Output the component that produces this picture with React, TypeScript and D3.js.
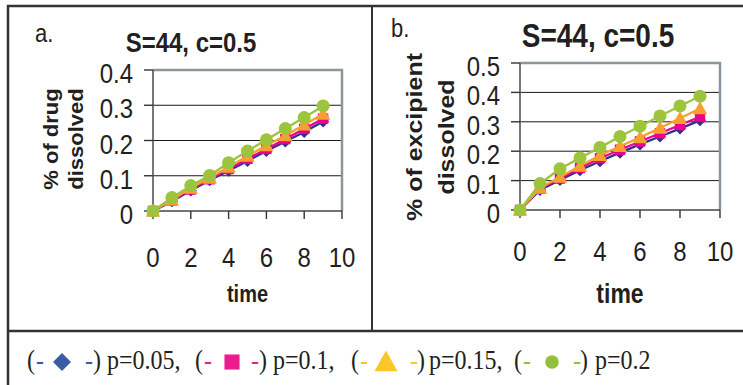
import React from "react";
import * as d3 from "d3";

const times = [0, 1, 2, 3, 4, 5, 6, 7, 8, 9];
const seriesNames = ["p=0.05", "p=0.1", "p=0.15", "p=0.2"];
const seriesShapes = ["diamond", "square", "triangle", "circle"];
const chartColors = ["#2e3192", "#ec008c", "#f7a02f", "#9cc43c"];
const legendColors = ["#3b5ba5", "#ec1c8c", "#fcc52a", "#92c13e"];

// panel a: % of drug dissolved
const drugP005 = [0, 0.028, 0.058, 0.087, 0.114, 0.142, 0.17, 0.197, 0.224, 0.254];
const drugP010 = [0, 0.03, 0.061, 0.09, 0.119, 0.148, 0.176, 0.204, 0.233, 0.262];
const drugP015 = [0, 0.032, 0.065, 0.094, 0.125, 0.156, 0.186, 0.214, 0.245, 0.275];
const drugP020 = [0, 0.038, 0.072, 0.101, 0.137, 0.17, 0.202, 0.234, 0.265, 0.298];

// panel b: % of excipient dissolved
const excP005 = [0, 0.068, 0.102, 0.135, 0.166, 0.195, 0.223, 0.25, 0.277, 0.305];
const excP010 = [0, 0.072, 0.107, 0.143, 0.176, 0.205, 0.233, 0.261, 0.289, 0.317];
const excP015 = [0, 0.075, 0.112, 0.15, 0.186, 0.217, 0.247, 0.279, 0.312, 0.345];
const excP020 = [0, 0.09, 0.14, 0.177, 0.213, 0.25, 0.285, 0.32, 0.354, 0.387];

const xTicks = [0, 2, 4, 6, 8, 10];
const yTicksA = [0, 0.1, 0.2, 0.3, 0.4];
const yTicksB = [0, 0.1, 0.2, 0.3, 0.4, 0.5];

const SANS = "Arial, 'Liberation Sans', Helvetica, sans-serif";
const SERIF = "'Times New Roman', 'Liberation Serif', serif";
const INK = "#231f20";
const SY = 1.18; // vertical stretch of horizontal text
const SQ = 0.88; // thickness squeeze of rotated text

type TProps = {
  x: number;
  y: number;
  size: number;
  anchor?: string;
  bold?: boolean;
  fill?: string;
  family?: string;
  children: React.ReactNode;
};

function T({ x, y, size, anchor = "start", bold = false, fill = INK, family = SANS, children }: TProps) {
  return (
    <text
      transform={`translate(${x},${y}) scale(1,${SY})`}
      fontFamily={family}
      fontSize={size}
      fontWeight={bold ? "bold" : "normal"}
      textAnchor={anchor}
      fill={fill}
    >
      {children}
    </text>
  );
}

type PanelProps = {
  letter: string;
  letterX: number;
  letterY: number;
  title: string;
  titleSize: number;
  titleX: number;
  titleY: number;
  ylab: string[];
  ylabSize: number;
  ylabX: number[];
  ylabY: number;
  x0: number;
  x1: number;
  y0: number;
  y1: number;
  yMax: number;
  yTicks: number[];
  series: number[][];
  xLabY: number;
  timeY: number;
  timeSize: number;
};

function marker(shape: string, cx: number, cy: number, color: string, s: number, key: string) {
  if (shape === "diamond") {
    const h = 6 * s;
    return <path key={key} d={`M${cx},${cy - h}L${cx + h},${cy}L${cx},${cy + h}L${cx - h},${cy}Z`} fill={color} />;
  }
  if (shape === "square") {
    const h = 5.2 * s;
    return <rect key={key} x={cx - h} y={cy - h} width={2 * h} height={2 * h} fill={color} />;
  }
  if (shape === "triangle") {
    const w = 7.2 * s;
    return <path key={key} d={`M${cx},${cy - w}L${cx + w},${cy + w * 0.8}L${cx - w},${cy + w * 0.8}Z`} fill={color} />;
  }
  return <circle key={key} cx={cx} cy={cy} r={6.5 * s} fill={color} />;
}

function Panel(p: PanelProps) {
  const x = d3.scaleLinear().domain([0, 10]).range([p.x0, p.x1]);
  const y = d3.scaleLinear().domain([0, p.yMax]).range([p.y0, p.y1]);
  const line = d3
    .line<number>()
    .x((_, i) => x(times[i]))
    .y((v) => y(v));
  return (
    <g>
      <T x={p.letterX} y={p.letterY} size={22}>
        {p.letter}
      </T>
      <T x={p.titleX} y={p.titleY} size={p.titleSize} bold anchor="middle">
        {p.title}
      </T>
      {p.ylab.map((t, i) => (
        <text
          key={t}
          transform={`translate(${p.ylabX[i]},${p.ylabY}) rotate(-90) scale(1,${SQ})`}
          fontFamily={SANS}
          fontSize={p.ylabSize}
          fontWeight="bold"
          textAnchor="middle"
          fill={INK}
        >
          {t}
        </text>
      ))}
      {p.yTicks
        .filter((t) => t > 0 && t < p.yMax)
        .map((t) => (
          <line key={t} x1={p.x0} x2={p.x1} y1={y(t)} y2={y(t)} stroke="#1a1a1a" strokeWidth={1} />
        ))}
      <path d={`M${p.x0},${p.y1}H${p.x1}V${p.y0}`} fill="none" stroke="#8c959c" strokeWidth={2.5} />
      <line x1={p.x0} x2={p.x0} y1={p.y1} y2={p.y0} stroke="#555" strokeWidth={1.6} />
      <line x1={p.x0} x2={p.x1} y1={p.y0} y2={p.y0} stroke="#444" strokeWidth={1.6} />
      {p.yTicks.map((t) => (
        <g key={t}>
          <line x1={p.x0 - 9} x2={p.x0} y1={y(t)} y2={y(t)} stroke="#333" strokeWidth={1.4} />
          <T x={p.x0 - 20} y={y(t) + 13} size={24} anchor="end">
            {t === 0 ? "0" : d3.format(".1f")(t)}
          </T>
        </g>
      ))}
      {xTicks.map((t) => (
        <g key={t}>
          <line x1={x(t)} x2={x(t)} y1={p.y0} y2={p.y0 + 8} stroke="#333" strokeWidth={1.4} />
          <T x={x(t)} y={p.xLabY} size={24} anchor="middle">
            {t}
          </T>
        </g>
      ))}
      <T x={(p.x0 + p.x1) / 2} y={p.timeY} size={p.timeSize} bold anchor="middle">
        time
      </T>
      {p.series.map((s, si) => (
        <g key={si}>
          <path d={line(s) || ""} fill="none" stroke={chartColors[si]} strokeWidth={2.3} />
          {s.map((v, i) => marker(seriesShapes[si], x(times[i]), y(v), chartColors[si], 1, `${si}-${i}`))}
        </g>
      ))}
    </g>
  );
}

const legendStarts = [27, 195, 351, 514];
const legendMarkerDx = [35, 37, 35, 38];
const legendDash2Dx = [58, 56, 59, 59];
const legendCloseDx = [66, 64, 66, 66];
const legendLabelDx = [80, 78, 78, 81];
const legendMarkerScale = [1.5, 1.45, 1.6, 1.05];

export default function App() {
  return (
    <svg width={743} height={385} style={{ position: "absolute", left: 0, top: 0, background: "#fff" }}>
      <rect x={0} y={0} width={743} height={385} fill="#fff" />
      <line x1={7} x2={743} y1={6} y2={6} stroke="#333" strokeWidth={2.5} />
      <line x1={8} x2={8} y1={5} y2={385} stroke="#333" strokeWidth={2.5} />
      <line x1={372} x2={372} y1={6} y2={331} stroke="#333" strokeWidth={2} />
      <line x1={8} x2={743} y1={331} y2={331} stroke="#333" strokeWidth={2.5} />

      <Panel
        letter="a."
        letterX={35}
        letterY={42}
        title="S=44, c=0.5"
        titleSize={24}
        titleX={191}
        titleY={52}
        ylab={["% of drug", "dissolved"]}
        ylabSize={22}
        ylabX={[58, 83]}
        ylabY={139}
        x0={153}
        x1={342}
        y0={211}
        y1={70}
        yMax={0.4}
        yTicks={yTicksA}
        series={[drugP005, drugP010, drugP015, drugP020]}
        xLabY={267}
        timeY={302}
        timeSize={20}
      />
      <Panel
        letter="b."
        letterX={391}
        letterY={37}
        title="S=44, c=0.5"
        titleSize={28}
        titleX={598}
        titleY={47}
        ylab={["% of excipient", "dissolved"]}
        ylabSize={25}
        ylabX={[422, 454]}
        ylabY={137}
        x0={520}
        x1={720}
        y0={210}
        y1={63}
        yMax={0.5}
        yTicks={yTicksB}
        series={[excP005, excP010, excP015, excP020]}
        xLabY={261}
        timeY={303}
        timeSize={23}
      />

      {seriesNames.map((name, i) => {
        const x0 = legendStarts[i];
        const by = 369;
        const sep = i < seriesNames.length - 1 ? "," : "";
        return (
          <g key={name}>
            <T x={x0} y={by} size={24} family={SERIF}>(</T>
            <T x={x0 + 9} y={by} size={24} family={SERIF} fill={legendColors[i]}>-</T>
            {marker(seriesShapes[i], x0 + legendMarkerDx[i], 362, legendColors[i], legendMarkerScale[i], `lg${i}`)}
            <T x={x0 + legendDash2Dx[i]} y={by} size={24} family={SERIF} fill={legendColors[i]}>-</T>
            <T x={x0 + legendCloseDx[i]} y={by} size={24} family={SERIF}>)</T>
            <T x={x0 + legendLabelDx[i]} y={by} size={24} family={SERIF}>{name + sep}</T>
          </g>
        );
      })}
    </svg>
  );
}
